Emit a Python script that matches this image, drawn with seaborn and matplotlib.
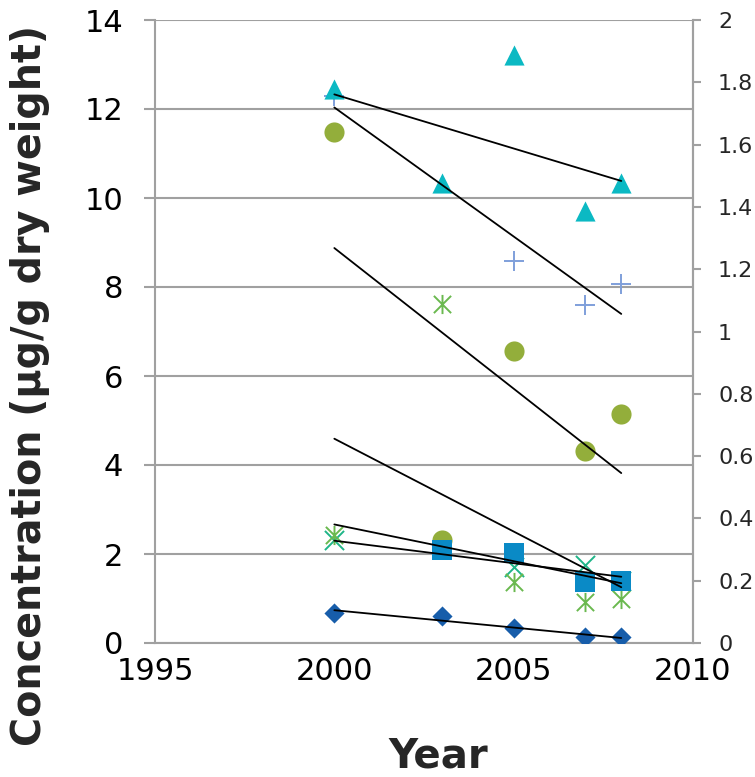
import numpy as np
import matplotlib
matplotlib.use("Agg")
import matplotlib.pyplot as plt
from matplotlib.path import Path
import seaborn as sns

# values (left axis units)
years_diamond = [2000, 2003, 2005, 2007, 2008]
diamond_vals = [0.68, 0.61, 0.34, 0.13, 0.13]

years_square = [2003, 2005, 2007, 2008]
square_vals = [2.09, 2.02, 1.36, 1.39]

years_triangle = [2000, 2003, 2005, 2007, 2008]
triangle_vals = [12.44, 10.34, 13.22, 9.71, 10.34]

years_cross = [2000, 2005, 2007, 2008]
cross_vals = [2.31, 1.71, 1.75, 1.40]

years_star = [2000, 2003, 2005, 2007, 2008]
star_vals = [2.43, 7.62, 1.38, 0.93, 1.00]

years_circle = [2000, 2003, 2005, 2007, 2008]
circle_vals = [11.49, 2.31, 6.57, 4.32, 5.15]

years_plus = [2000, 2005, 2007, 2008]
plus_vals = [12.29, 8.58, 7.60, 8.07]

x_ticks = [1995, 2000, 2005, 2010]
left_ticks = [0, 2, 4, 6, 8, 10, 12, 14]
right_ticks = [0, 0.2, 0.4, 0.6, 0.8, 1, 1.2, 1.4, 1.6, 1.8, 2]

sns.set_style("white")
plt.rcParams['font.family'] = ['DejaVu Sans']

# asterisk marker like the spreadsheet one (x + vertical bar)
d = 0.9
star_marker = Path([(0, -1), (0, 1), (-d, -d), (d, d), (-d, d), (d, -d)],
                   [Path.MOVETO, Path.LINETO, Path.MOVETO, Path.LINETO, Path.MOVETO, Path.LINETO])

fig = plt.figure(figsize=(7.55, 7.77), dpi=100)
ax = fig.add_axes([155 / 755, 1 - 643 / 777, (693 - 155) / 755, (643 - 20) / 777])

series = [
    # years, values, marker, colour, size, zorder
    (years_plus, plus_vals, "+", "#7F9FDA", 190, 2),
    (years_cross, cross_vals, "x", "#1FB588", 190, 2),
    (years_star, star_vals, star_marker, "#6AB94F", 190, 2),
    (years_circle, circle_vals, "o", "#93AE3B", 210, 2),
    (years_triangle, triangle_vals, "^", "#0BB9C3", 210, 3),
    (years_square, square_vals, "s", "#0A8AC6", 210, 3),
    (years_diamond, diamond_vals, "D", "#175DAA", 105, 3),
]

all_years = years_diamond + years_square + years_triangle + years_cross + years_star + years_circle + years_plus
span = np.array([min(all_years), max(all_years)])

for yrs, vals, mk, col, size, z in series:
    filled = mk in ("o", "^", "s", "D")
    if filled:
        sns.scatterplot(x=yrs, y=vals, marker=mk, color=col, s=size, linewidth=0,
                        ax=ax, zorder=z, legend=False)
    else:
        ax.scatter(yrs, vals, marker=mk, color=col, s=size, linewidths=1.4, zorder=z)

# linear trend lines, drawn over the whole year span
for yrs, vals, mk, col, size, z in series:
    k, b = np.polyfit(yrs, vals, 1)
    ax.plot(span, k * span + b, color="black", lw=1.3, zorder=5)

grey = "#A0A0A0"
ax.set_xlim(1995, 2010)
ax.set_ylim(0, 14)
ax.set_xticks(x_ticks)
ax.set_yticks(left_ticks)
ax.yaxis.grid(True, color=grey, lw=1.5)
ax.set_axisbelow(True)
for side in ["left", "bottom", "right"]:
    ax.spines[side].set_color(grey)
    ax.spines[side].set_linewidth(1.5)
ax.spines["top"].set_visible(False)
ax.tick_params(axis="both", direction="out", length=8, width=1.5, color=grey,
               labelsize=22, labelcolor="black")
ax.tick_params(axis="y", pad=15)
ax.tick_params(axis="x", pad=2)

ax2 = ax.twinx()
ax2.set_ylim(0, 2)
ax2.set_yticks(right_ticks)
ax2.set_yticklabels(["%g" % t for t in right_ticks])
ax2.spines["top"].set_visible(False)
ax2.spines["left"].set_visible(False)
ax2.spines["bottom"].set_visible(False)
ax2.spines["right"].set_color(grey)
ax2.spines["right"].set_linewidth(1.5)
ax2.tick_params(axis="y", direction="out", length=6, width=1.5, color=grey,
                labelsize=16, pad=12)

fig.text(30 / 755, 1 - 386 / 777, "Concentration (µg/g dry weight)", rotation=90,
         ha="center", va="center", fontsize=28.5, fontweight="bold")
fig.text(438 / 755, 1 - 757 / 777, "Year", ha="center", va="center",
         fontsize=29, fontweight="bold")

fig.savefig("out.png", dpi=100)
